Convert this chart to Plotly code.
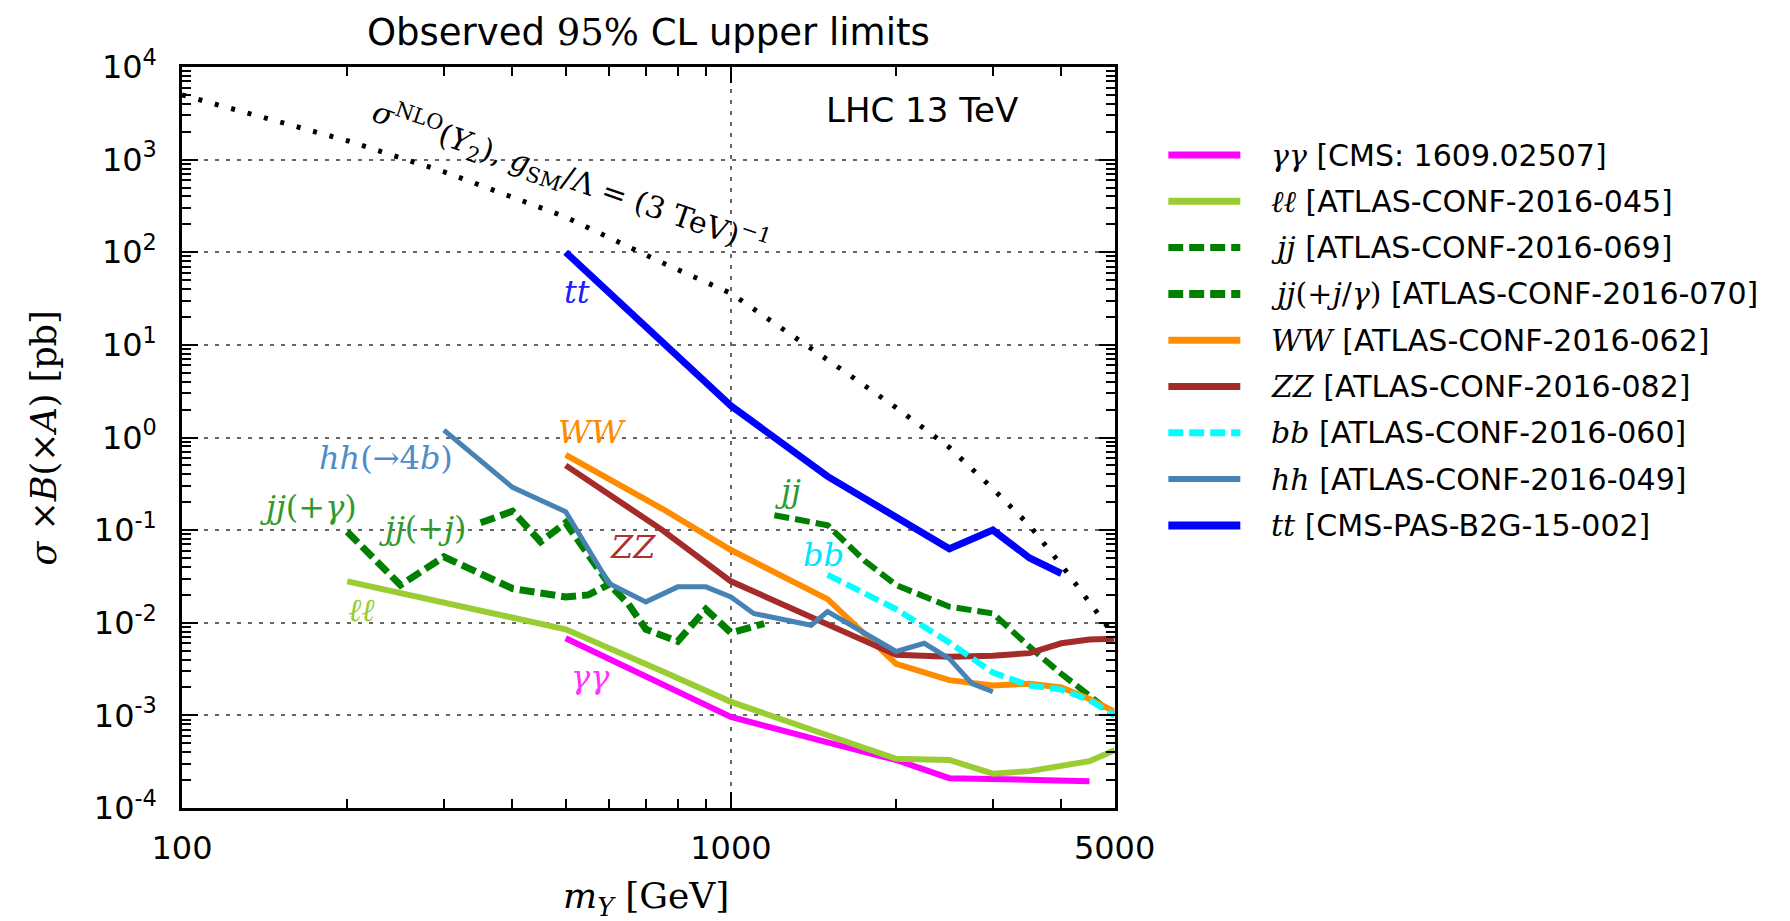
import numpy as np
import plotly.graph_objects as go

# ---------------- data ----------------
mass_nlo = [100, 200, 300, 400, 500, 750, 1000, 1500, 2000, 2500, 3000, 3500, 4000, 4500, 5000]
xsec_nlo = [5000, 1600, 740, 390, 240, 77, 36, 6.9, 2.1, 0.78, 0.28, 0.112, 0.042, 0.0166, 0.0072]

mass_aa = [500, 750, 1000, 1500, 2000, 2500, 3000, 3500, 4000, 4500]
xsec_aa = [6.8e-3, 2.15e-3, 9.6e-4, 5.1e-4, 3.3e-4, 2.1e-4, 2.05e-4, 2.0e-4, 2.0e-4, 1.95e-4]

mass_ll = [200, 300, 400, 500, 750, 1000, 1500, 2000, 2500, 3000, 3500, 4000, 4500, 5000]
xsec_ll = [0.028, 0.0164, 0.0113, 0.0085, 0.003, 0.0014, 6.1e-4, 3.4e-4, 3.3e-4, 2.35e-4, 2.5e-4, 2.8e-4, 3.2e-4, 4.2e-4]

mass_jj = [1200, 1500, 1750, 2000, 2500, 3000, 3500, 4000, 4500, 5000]
xsec_jj = [0.145, 0.113, 0.047, 0.0255, 0.0149, 0.0126, 0.0055, 0.0028, 0.00164, 0.001]

mass_jjg = [200, 250, 300, 400, 500, 550, 600]
xsec_jjg = [0.096, 0.0255, 0.0515, 0.0234, 0.019, 0.02, 0.026]

mass_jjj = [350, 400, 450, 500, 600, 650, 700, 800, 900, 1000, 1150]
xsec_jjj = [0.12, 0.16, 0.075, 0.12, 0.026, 0.016, 0.0085, 0.0063, 0.014, 0.0078, 0.0098]

mass_ww = [500, 750, 1000, 1500, 2000, 2500, 3000, 3500, 4000, 4500, 5000]
xsec_ww = [0.65, 0.17, 0.061, 0.018, 0.0036, 0.0024, 0.0021, 0.0022, 0.002, 0.0015, 0.0011]

mass_zz = [500, 750, 1000, 1500, 2000, 2500, 3000, 3500, 4000, 4500, 5000]
xsec_zz = [0.5, 0.1, 0.028, 0.0098, 0.0045, 0.0043, 0.0044, 0.0047, 0.006, 0.0066, 0.0067]

mass_bb = [1500, 1750, 2000, 2500, 3000, 3500, 4000, 4500, 5000]
xsec_bb = [0.033, 0.021, 0.014, 0.0061, 0.0029, 0.0021, 0.0019, 0.00146, 0.001]

mass_hh = [300, 400, 500, 600, 700, 800, 900, 1000, 1100, 1400, 1500, 1750, 2000, 2250, 2500, 2750, 3000]
xsec_hh = [1.2, 0.29, 0.158, 0.0265, 0.0168, 0.0244, 0.0244, 0.019, 0.0126, 0.0094, 0.0132, 0.0077, 0.0049, 0.006, 0.0041, 0.0022, 0.0018]

mass_tt = [500, 1000, 1500, 2000, 2500, 3000, 3500, 4000]
xsec_tt = [100, 2.2, 0.38, 0.135, 0.063, 0.10, 0.05, 0.034]

x_tick_vals = [100, 1000, 5000]
x_tick_text = ["100", "1000", "5000"]
y_exponents = [-4, -3, -2, -1, 0, 1, 2, 3, 4]

# ---------------- styling ----------------
SERIF = "DejaVu Serif"
SANS = "DejaVu Sans"


def mth(s):
    return f'<span style="font-family:{SERIF}">{s}</span>'


W, H = 1790, 921
ML, MR, MT, MB = 182, 0, 67, 113
PLOT_RIGHT = 1139
PW = W - ML - MR
PH = H - MT - MB
main_dom = (PLOT_RIGHT - ML) / PW

fig = go.Figure()

# NLO reference cross section (dotted)
fig.add_trace(go.Scatter(x=mass_nlo, y=xsec_nlo, mode="lines",
                         line=dict(color="black", width=5, dash="4px,13px"),
                         hoverinfo="skip", showlegend=False))

series = [
    dict(parts=[(mass_aa, xsec_aa)], color="#ff00ff", width=6, dash="solid",
         label=mth("<i>γγ</i>") + " [CMS: 1609.02507]"),
    dict(parts=[(mass_ll, xsec_ll)], color="#9acd32", width=6, dash="solid",
         label=mth("<i>ℓℓ</i>") + " [ATLAS-CONF-2016-045]"),
    dict(parts=[(mass_jj, xsec_jj)], color="#008000", width=6, dash="15px,6px",
         label=mth("<i>jj</i>") + " [ATLAS-CONF-2016-069]"),
    dict(parts=[(mass_jjg, xsec_jjg), (mass_jjj, xsec_jjj)], color="#008000", width=7, dash="15px,6px",
         label=mth("<i>jj</i>(+<i>j</i>/<i>γ</i>)") + " [ATLAS-CONF-2016-070]"),
    dict(parts=[(mass_ww, xsec_ww)], color="#ff8c00", width=6, dash="solid",
         label=mth("<i>WW</i>") + " [ATLAS-CONF-2016-062]"),
    dict(parts=[(mass_zz, xsec_zz)], color="#a52a2a", width=6, dash="solid",
         label=mth("<i>ZZ</i>") + " [ATLAS-CONF-2016-082]"),
    dict(parts=[(mass_bb, xsec_bb)], color="#00ffff", width=6, dash="15px,6px",
         label=mth("<i>bb</i>") + " [ATLAS-CONF-2016-060]"),
    dict(parts=[(mass_hh, xsec_hh)], color="#4682b4", width=5, dash="solid",
         label=mth("<i>hh</i>") + " [ATLAS-CONF-2016-049]"),
    dict(parts=[(mass_tt, xsec_tt)], color="#0000ff", width=7, dash="solid",
         label=mth("<i>tt</i>") + " [CMS-PAS-B2G-15-002]"),
]

for s in series:
    for (xs, ys) in s["parts"]:
        fig.add_trace(go.Scatter(x=xs, y=ys, mode="lines",
                                 line=dict(color=s["color"], width=s["width"], dash=s["dash"]),
                                 hoverinfo="skip", showlegend=False))

# ---------------- custom legend on hidden axes ----------------
LEG_X0, LEG_LEN, TEXT_X = 1194, 74, 1297
ROW0, DROW = 155, 46.3
x2_dom = [(LEG_X0 - ML) / PW, 1.0]
x2_range = [0, (W - MR - LEG_X0) / LEG_LEN]
y2_range = [(MT + PH - ROW0) / DROW, (MT - ROW0) / DROW]

annotations = []
for i, s in enumerate(series):
    fig.add_trace(go.Scatter(x=[0, 1], y=[i, i], mode="lines", xaxis="x2", yaxis="y2",
                             line=dict(color=s["color"], width=s["width"] + 1, dash=s["dash"]),
                             hoverinfo="skip", showlegend=False))
    annotations.append(dict(x=(TEXT_X - LEG_X0) / LEG_LEN, y=i, xref="x2", yref="y2",
                            text=s["label"], showarrow=False, xanchor="left", yanchor="middle",
                            font=dict(family=SANS, size=30, color="black")))

# ---------------- in-plot labels ----------------
plot_labels = [
    ("<i>tt</i>", 525, 37, "#2020ff"),
    ("<i>hh</i>(→4<i>b</i>)", 235, 0.6, "#4f8cc9"),
    ("<i>jj</i>(+<i>γ</i>)", 170, 0.177, "#2e9a2e"),
    ("<i>jj</i>(+<i>j</i>)", 275, 0.105, "#2e9a2e"),
    ("<i>WW</i>", 560, 1.14, "#ff8c00"),
    ("<i>ZZ</i>", 662, 0.0655, "#b03030"),
    ("<i>ℓℓ</i>", 212, 0.0137, "#9acd32"),
    ("<i>γγ</i>", 556, 0.00259, "#ff33ff"),
    ("<i>jj</i>", 1268, 0.264, "#2e9a2e"),
    ("<i>bb</i>", 1472, 0.0537, "#00e5ff"),
]
for txt, mx, sy, col in plot_labels:
    annotations.append(dict(x=np.log10(mx), y=np.log10(sy), xref="x", yref="y", text=txt,
                            showarrow=False, xanchor="center", yanchor="middle",
                            font=dict(family=SERIF, size=32, color=col)))

annotations.append(dict(x=np.log10(2226), y=np.log10(3436), xref="x", yref="y", text="LHC 13 TeV",
                        showarrow=False, xanchor="center", yanchor="middle",
                        font=dict(family=SANS, size=34, color="black")))
annotations.append(dict(x=np.log10(510), y=np.log10(620), xref="x", yref="y",
                        text="<i>σ</i><sup>NLO</sup>(<i>Y</i><sub>2</sub>), <i>g</i><sub>SM</sub>/Λ = (3 TeV)<sup>−1</sup>",
                        showarrow=False, xanchor="center", yanchor="middle", textangle=19,
                        font=dict(family=SERIF, size=30, color="black")))

# axis titles
annotations.append(dict(x=(40 - ML) / PW, y=1 - (438 - MT) / PH, xref="paper", yref="paper",
                        text="<i>σ</i> ×<i>B</i>(×<i>A</i>) [pb]", textangle=-90, showarrow=False,
                        xanchor="center", yanchor="middle",
                        font=dict(family=SERIF, size=35, color="black")))
annotations.append(dict(x=(658 - ML) / PW, y=-(898 - (MT + PH)) / PH, xref="paper", yref="paper",
                        text="<i>m</i><sub><i>Y</i></sub> [GeV]", showarrow=False,
                        xanchor="center", yanchor="middle",
                        font=dict(family=SERIF, size=36, color="black")))

y_tick_vals = [10.0 ** e for e in y_exponents]
y_tick_text = [f"10<sup>{e}</sup>" for e in y_exponents]
y_minor = [k * 10.0 ** e for e in y_exponents[:-1] for k in range(2, 10)]
x_minor = [200, 300, 400, 500, 600, 700, 800, 900, 2000, 3000, 4000]

GRID = dict(showgrid=True, gridcolor="rgba(0,0,0,0.6)", gridwidth=1.6, griddash="4px,7px")

fig.update_layout(
    width=W, height=H,
    margin=dict(l=ML, r=MR, t=MT, b=MB, pad=0),
    paper_bgcolor="white", plot_bgcolor="white",
    showlegend=False,
    font=dict(family=SANS, size=30, color="black"),
    title=dict(text=f'Observed <span style="font-family:{SERIF}">95%</span> CL upper limits',
               x=main_dom / 2, xref="paper", xanchor="center",
               y=1 - 32 / H, yref="container", yanchor="middle",
               font=dict(family=SANS, size=37, color="black")),
    xaxis=dict(type="log", range=[2, np.log10(5000)], domain=[0, main_dom],
               tickvals=x_tick_vals, ticktext=x_tick_text,
               ticks="inside", ticklen=16, tickwidth=1.5, tickcolor="black",
               showline=True, linecolor="black", linewidth=2.5, mirror="ticks",
               zeroline=False, tickfont=dict(family=SANS, size=32, color="black"),
               ticklabelstandoff=10,
               minor=dict(tickvals=x_minor, ticks="inside", ticklen=9, tickwidth=1.5,
                          tickcolor="black", showgrid=False),
               **GRID),
    yaxis=dict(type="log", range=[-4, 4], domain=[0, 1],
               tickvals=y_tick_vals, ticktext=y_tick_text,
               ticks="inside", ticklen=16, tickwidth=1.5, tickcolor="black",
               showline=True, linecolor="black", linewidth=2.5, mirror="ticks",
               zeroline=False, tickfont=dict(family=SANS, size=32, color="black"),
               ticklabelstandoff=16,
               minor=dict(tickvals=y_minor, ticks="inside", ticklen=9, tickwidth=1.5,
                          tickcolor="black", showgrid=False),
               **GRID),
    xaxis2=dict(domain=x2_dom, range=x2_range, visible=False, anchor="y2", fixedrange=True),
    yaxis2=dict(domain=[0, 1], range=y2_range, visible=False, anchor="x2", fixedrange=True),
    annotations=annotations,
)

fig.write_html("out.html")
